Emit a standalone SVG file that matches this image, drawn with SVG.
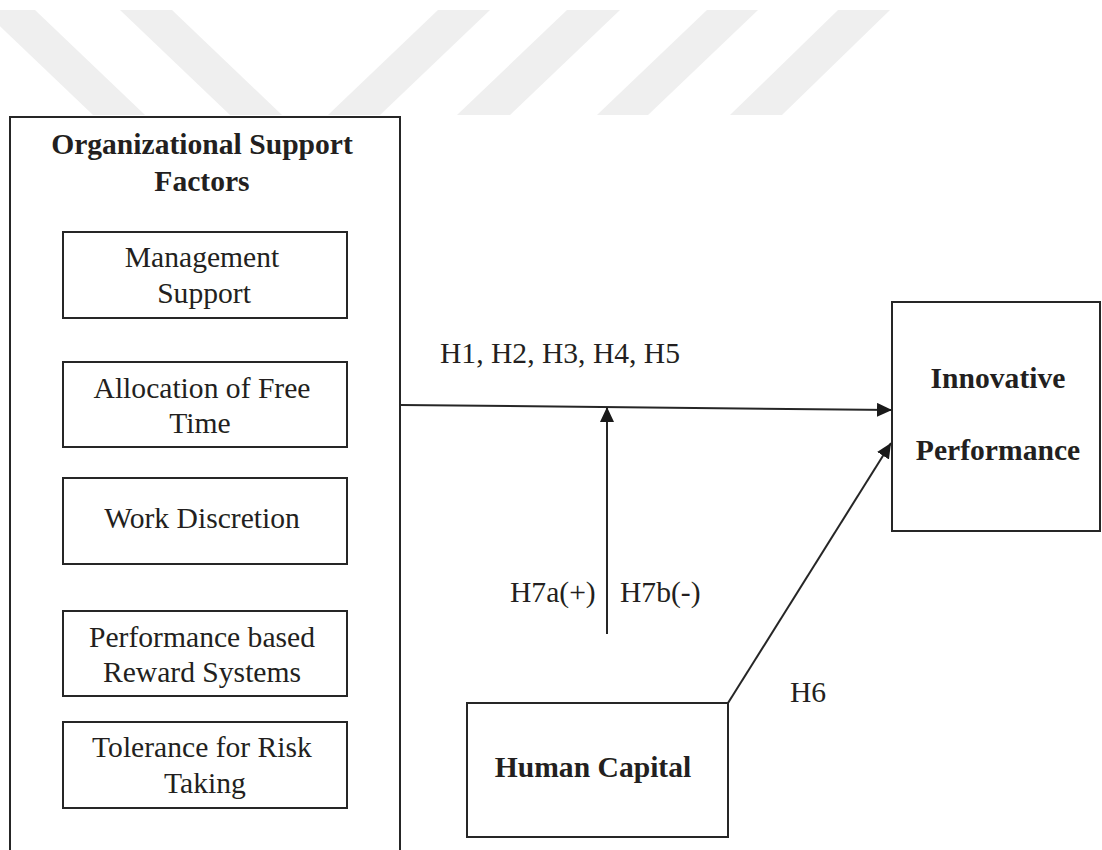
<svg xmlns="http://www.w3.org/2000/svg" width="1102" height="850" viewBox="0 0 1102 850">
  <style>
    .box { fill: none; stroke: #262626; stroke-width: 2; }
    .wire { fill: none; stroke: #262626; stroke-width: 2; }
    .txt { font-family: "Liberation Serif", "Times New Roman", serif; font-size: 29.6px; fill: #231f20; text-anchor: middle; }
    .bold { font-weight: bold; }
    .lbl { font-family: "Liberation Serif", "Times New Roman", serif; font-size: 29.6px; fill: #231f20; }
    .mark { fill: #efefef; }
  </style>
  <defs>
    <marker id="head" markerUnits="userSpaceOnUse" markerWidth="16" markerHeight="14" refX="15" refY="7" orient="auto">
      <path d="M0,0 L15,7 L0,14 Z" fill="#1a1a1a"/>
    </marker>
  </defs>

  <rect width="1102" height="850" fill="#ffffff"/>

  <!-- light background band pattern -->
  <g id="bands">
    <polygon class="mark" points="-17,10 35,10 145,115 93,115"/>
    <polygon class="mark" points="120,10 172,10 282,115 230,115"/>
    <polygon class="mark" points="438,10 490,10 380,115 328,115"/>
    <polygon class="mark" points="567,10 620,10 510,115 457,115"/>
    <polygon class="mark" points="707,10 758,10 648,115 597,115"/>
    <polygon class="mark" points="838,10 890,10 782,115 730,115"/>
  </g>

  <g id="org-support">
    <path class="box" d="M10,860 V117 H400 V860"/>
    <text class="txt bold" x="202" y="154">Organizational Support</text>
    <text class="txt bold" x="202" y="191">Factors</text>
  </g>

  <g id="management-support">
    <rect class="box" x="63" y="232" width="284" height="86"/>
    <text class="txt" x="202" y="267">Management</text>
    <text class="txt" x="204" y="303">Support</text>
  </g>

  <g id="free-time">
    <rect class="box" x="63" y="362" width="284" height="85"/>
    <text class="txt" x="202" y="398">Allocation of Free</text>
    <text class="txt" x="200" y="433">Time</text>
  </g>

  <g id="work-discretion">
    <rect class="box" x="63" y="478" width="284" height="86"/>
    <text class="txt" x="202" y="528">Work Discretion</text>
  </g>

  <g id="reward-systems">
    <rect class="box" x="63" y="611" width="284" height="85"/>
    <text class="txt" x="202" y="647">Performance based</text>
    <text class="txt" x="202" y="682">Reward Systems</text>
  </g>

  <g id="risk-tolerance">
    <rect class="box" x="63" y="722" width="284" height="86"/>
    <text class="txt" x="202" y="757">Tolerance for Risk</text>
    <text class="txt" x="205" y="793">Taking</text>
  </g>

  <g id="innovative-performance">
    <rect class="box" x="892" y="302" width="208" height="229"/>
    <text class="txt bold" x="998" y="388">Innovative</text>
    <text class="txt bold" x="998" y="460">Performance</text>
  </g>

  <g id="human-capital">
    <rect class="box" x="467" y="703" width="261" height="134"/>
    <text class="txt bold" x="593" y="777">Human Capital</text>
  </g>

  <g id="connectors">
    <line class="wire" x1="401" y1="405" x2="892" y2="410" marker-end="url(#head)"/>
    <line class="wire" x1="607" y1="634" x2="607" y2="407" marker-end="url(#head)"/>
    <line class="wire" x1="728" y1="703" x2="891" y2="443" marker-end="url(#head)"/>
  </g>

  <g id="labels">
    <text class="lbl" x="440" y="363">H1, H2, H3, H4, H5</text>
    <text class="lbl" x="510" y="602">H7a(+)</text>
    <text class="lbl" x="620" y="602">H7b(-)</text>
    <text class="lbl" x="790" y="702">H6</text>
  </g>
</svg>
